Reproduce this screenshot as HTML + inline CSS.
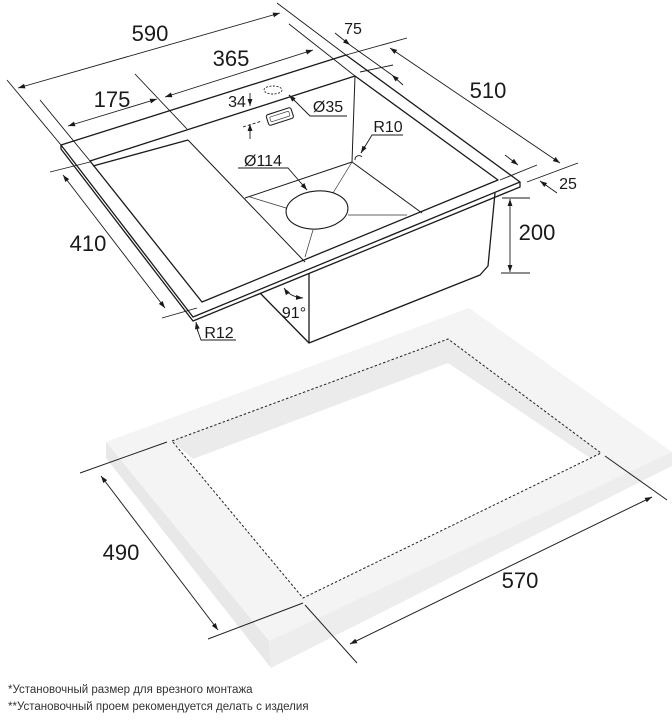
<!DOCTYPE html>
<html><head><meta charset="utf-8"><style>
html,body{margin:0;padding:0;background:#fff;width:672px;height:721px;overflow:hidden}
svg{display:block}
text{font-family:"Liberation Sans",sans-serif;fill:#1a1a1a}
.n{font-size:22px}
.s{font-size:16px}
.f{font-size:11.5px;fill:#333;font-family:"Liberation Sans","Noto Sans CJK SC",sans-serif}
</style></head><body>
<svg width="672" height="721" viewBox="0 0 672 721" xmlns="http://www.w3.org/2000/svg">
<defs>
<marker id="a" viewBox="0 0 10 10" refX="10" refY="5" markerWidth="9" markerHeight="7" orient="auto-start-reverse" markerUnits="userSpaceOnUse"><path d="M0,1.5 L10,5 L0,8.5 z" fill="#1a1a1a"/></marker>
</defs>

<!-- countertop slab -->
<polygon points="106,442 469,308 672,452 269,641" fill="#f4f4f4"/>
<polygon points="106,442 269,641 271,668 106,458" fill="#e8e8e8"/>
<polygon points="269,641 672,452 672,466 271,668" fill="#ededed"/>
<polygon points="172,441 448,339 601,453 303,598" fill="#fff"/>
<polygon points="172,441 448,339 448,363 193,459" fill="#ebebeb"/>
<polygon points="448,339 601,453 590,458 448,363" fill="#ebebeb"/>
<polygon points="172,441 448,339 601,453 303,598" fill="none" stroke="#222" stroke-width="1" stroke-dasharray="2.5,2"/>

<!-- slab dims -->
<g stroke="#222" stroke-width="1" fill="none">
<line x1="80" y1="473" x2="167" y2="442"/>
<line x1="208" y1="639" x2="303" y2="603"/>
<line x1="101" y1="476" x2="218" y2="630" marker-start="url(#a)" marker-end="url(#a)"/>
<line x1="305" y1="605" x2="357" y2="663"/>
<line x1="605" y1="456" x2="667" y2="500"/>
<line x1="350" y1="644" x2="652" y2="497" marker-start="url(#a)" marker-end="url(#a)"/>
</g>
<text class="n" x="121" y="560" text-anchor="middle">490</text>
<text class="n" x="520" y="588" text-anchor="middle">570</text>

<!-- sink -->
<g stroke="#1a1a1a" stroke-width="1.3" fill="none" stroke-linejoin="round">
<polygon points="61,145 346,55 520,182 193,317" fill="#fff"/>
<polyline points="61,145 61,149 193,321 520,187 520,182"/>
<!-- inner opening -->
<polygon points="90,161 355,76 498,180 202,302"/>
<polyline points="93,166 188,140"/>
<!-- bowl walls -->
<line x1="355" y1="76" x2="352" y2="162" stroke-width="1"/>
<line x1="188" y1="140" x2="305" y2="262" stroke-width="1"/>
<line x1="245" y1="198" x2="352" y2="162" stroke-width="1"/>
<line x1="352" y1="162" x2="422" y2="213" stroke-width="1"/>
<!-- exterior -->
<polyline points="495,193 488,266 480,275 309,343 260,293"/>
<line x1="309" y1="274" x2="309" y2="343"/>
</g>
<g stroke="#333" stroke-width="0.7" fill="none">
<line x1="333" y1="193" x2="352" y2="162"/>
<line x1="250" y1="197" x2="286" y2="208"/>
<line x1="348" y1="215" x2="407" y2="215"/>
<line x1="313" y1="230" x2="305" y2="257"/>
</g>
<ellipse cx="317" cy="210" rx="31" ry="19" fill="#fff" stroke="#1a1a1a" stroke-width="1.1" transform="rotate(-5 317 210)"/>

<!-- overflow -->
<ellipse cx="273" cy="90" rx="9" ry="4" fill="none" stroke="#222" stroke-width="0.9" stroke-dasharray="2,1.5"/>
<g transform="rotate(-18 280 117)">
<rect x="267" y="111" width="26" height="11" rx="2" fill="#fff" stroke="#222" stroke-width="1.1"/>
<rect x="270" y="114" width="20" height="5" rx="1" fill="none" stroke="#444" stroke-width="0.7"/>
</g>

<!-- dimension lines -->
<g stroke="#1a1a1a" stroke-width="0.9" fill="none">
<line x1="7" y1="80" x2="61" y2="145"/>
<line x1="277" y1="3" x2="346" y2="55"/>
<line x1="18" y1="88" x2="280" y2="13" marker-start="url(#a)" marker-end="url(#a)"/>
<line x1="135" y1="74" x2="187" y2="129"/>
<line x1="289" y1="24" x2="355" y2="76"/>
<line x1="165" y1="97" x2="313" y2="50" marker-start="url(#a)" marker-end="url(#a)"/>
<line x1="40" y1="100" x2="90" y2="161"/>
<line x1="68" y1="126" x2="157" y2="99" marker-start="url(#a)" marker-end="url(#a)"/>
<line x1="346" y1="55" x2="407" y2="38"/>
<line x1="360" y1="72" x2="393" y2="65"/>
<line x1="335" y1="33" x2="350" y2="45" marker-end="url(#a)"/>
<line x1="403" y1="85" x2="392" y2="75" marker-end="url(#a)"/>
<line x1="350" y1="45" x2="392" y2="75"/>
<line x1="390" y1="48" x2="560" y2="163" marker-start="url(#a)" marker-end="url(#a)"/>
<line x1="500" y1="180" x2="537" y2="165"/>
<line x1="527" y1="182" x2="578" y2="163"/>
<line x1="505" y1="155" x2="518" y2="165" marker-end="url(#a)"/>
<line x1="557" y1="193" x2="540" y2="181" marker-end="url(#a)"/>
<line x1="502" y1="198" x2="530" y2="198"/>
<line x1="501" y1="273" x2="530" y2="273"/>
<line x1="510" y1="199" x2="510" y2="272" marker-start="url(#a)" marker-end="url(#a)"/>
<line x1="50" y1="172" x2="90" y2="162"/>
<line x1="162" y1="318" x2="197" y2="308"/>
<line x1="63" y1="175" x2="165" y2="308" marker-start="url(#a)" marker-end="url(#a)"/>
<line x1="250" y1="93" x2="250" y2="106" marker-end="url(#a)"/>
<line x1="250" y1="139" x2="250" y2="124" marker-end="url(#a)"/>
<line x1="243" y1="127" x2="262" y2="121" stroke-dasharray="3,2"/>
<polyline points="347,116 310,116 289,95"/><line x1="295" y1="101" x2="289" y2="95" marker-end="url(#a)"/>
<polyline points="403,135 372,135 361,153"/><line x1="365" y1="146" x2="361" y2="153" marker-end="url(#a)"/>
<path d="M355,160 A4,4 0 0 1 362,157"/>
<polyline points="238,168 288,168 307,190"/><line x1="302" y1="184" x2="307" y2="190" marker-end="url(#a)"/>
<polyline points="236,340 201,340 196,326"/><line x1="198" y1="332" x2="196" y2="322" marker-end="url(#a)"/>
<path d="M284,288 Q290,297 303,298" marker-start="url(#a)" marker-end="url(#a)"/>
</g>

<text class="n" x="150" y="41" text-anchor="middle">590</text>
<text class="n" x="231" y="66" text-anchor="middle">365</text>
<text class="n" x="112" y="107" text-anchor="middle">175</text>
<text class="n" x="88" y="251" text-anchor="middle">410</text>
<text class="n" x="488" y="98" text-anchor="middle">510</text>
<text class="n" x="537" y="240" text-anchor="middle">200</text>
<text class="s" x="353" y="34" text-anchor="middle">75</text>
<text class="s" x="568" y="189" text-anchor="middle">25</text>
<text class="s" x="237" y="107" text-anchor="middle">34</text>
<text class="s" x="328" y="112" text-anchor="middle">Ø35</text>
<text class="s" x="388" y="132" text-anchor="middle">R10</text>
<text class="s" x="263" y="166" text-anchor="middle">Ø114</text>
<text class="s" x="219" y="338" text-anchor="middle">R12</text>
<text class="s" x="294" y="318" text-anchor="middle">91°</text>

<text class="f" x="8" y="693">*Установочный размер для врезного монтажа</text>
<text class="f" x="8" y="710">**Установочный проем рекомендуется делать с изделия</text>
</svg>
</body></html>
